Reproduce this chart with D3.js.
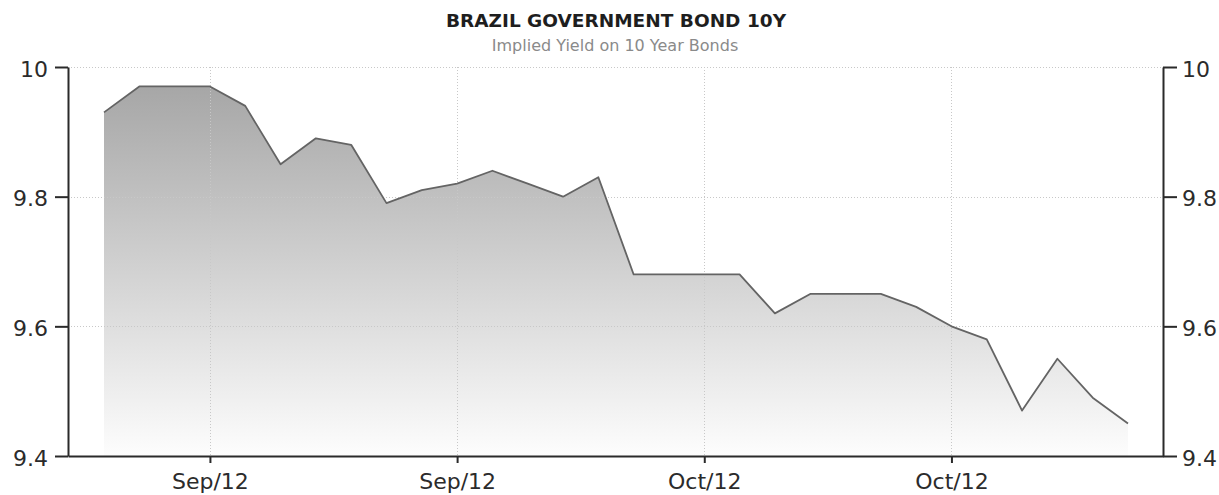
<!DOCTYPE html>
<html>
<head>
<meta charset="utf-8">
<script src="https://cdn.jsdelivr.net/npm/d3@7/dist/d3.min.js"></script>
<style>
  html, body { margin: 0; padding: 0; background: #fff; }
  svg { display: block; }
</style>
</head>
<body>
<svg id="chart" width="1219" height="495"></svg>
<script>
// Daily observations, 10-year Brazil government bond yield (%)
const dates = [
  "2012-09-14", "2012-09-15", "2012-09-16", "2012-09-17", "2012-09-18",
  "2012-09-19", "2012-09-20", "2012-09-21", "2012-09-22", "2012-09-23",
  "2012-09-24", "2012-09-25", "2012-09-26", "2012-09-27", "2012-09-28",
  "2012-09-29", "2012-09-30", "2012-10-01", "2012-10-02", "2012-10-03",
  "2012-10-04", "2012-10-05", "2012-10-06", "2012-10-07", "2012-10-08",
  "2012-10-09", "2012-10-10", "2012-10-11", "2012-10-12", "2012-10-13"
];
const yields = [
  9.93, 9.97, 9.97, 9.97, 9.94,
  9.85, 9.89, 9.88, 9.79, 9.81,
  9.82, 9.84, 9.82, 9.80, 9.83,
  9.68, 9.68, 9.68, 9.68, 9.62,
  9.65, 9.65, 9.65, 9.63, 9.60,
  9.58, 9.47, 9.55, 9.49, 9.45
];

// Axis ticks
const yTicks = [9.4, 9.6, 9.8, 10];
const xTickDates = ["2012-09-17", "2012-09-24", "2012-10-01", "2012-10-08"];
const xTickLabels = ["Sep/12", "Sep/12", "Oct/12", "Oct/12"];

const title = "BRAZIL GOVERNMENT BOND 10Y";
const subtitle = "Implied Yield on 10 Year Bonds";

const parse = d3.utcParse("%Y-%m-%d");
const data = dates.map((d, i) => ({ date: parse(d), value: yields[i] }));
const tickDates = xTickDates.map(parse);

const svg = d3.select("#chart");
const W = 1219, H = 495;
const m = { left: 68, right: W - 1163, top: 67, bottom: H - 456 };
const innerW = W - m.left - m.right;
const innerH = H - m.top - m.bottom;

// Time axis padded so the first and last days sit inside the frame
const firstX = 104, lastX = 1128;
const dayPx = (lastX - firstX) / (data.length - 1);
const x = d3.scaleUtc()
  .domain([
    new Date(data[0].date.getTime() - (firstX - m.left) / dayPx * 864e5),
    new Date(data[data.length - 1].date.getTime() + (m.left + innerW - lastX) / dayPx * 864e5)
  ])
  .range([m.left, m.left + innerW]);

const y = d3.scaleLinear().domain([9.4, 10]).range([m.top + innerH, m.top]);

const defs = svg.append("defs");
const grad = defs.append("linearGradient")
  .attr("id", "areaFill")
  .attr("gradientUnits", "userSpaceOnUse")
  .attr("x1", 0).attr("x2", 0)
  .attr("y1", y(10)).attr("y2", y(9.4));
grad.append("stop").attr("offset", "0%").attr("stop-color", "#a2a2a2");
grad.append("stop").attr("offset", "100%").attr("stop-color", "#fdfdfd");

// Area under the series
const area = d3.area()
  .x(d => x(d.date))
  .y0(y(9.4))
  .y1(d => y(d.value));
svg.append("path")
  .datum(data)
  .attr("d", area)
  .attr("fill", "url(#areaFill)");

// Dotted grid
const grid = svg.append("g").attr("stroke", "#c8c8c8").attr("stroke-width", 1)
  .attr("stroke-dasharray", "1,2");
grid.selectAll("line.h")
  .data(yTicks.filter(t => t > 9.4))
  .join("line")
  .attr("class", "h")
  .attr("x1", m.left).attr("x2", m.left + innerW)
  .attr("y1", d => Math.round(y(d)) + 0.5).attr("y2", d => Math.round(y(d)) + 0.5);
grid.selectAll("line.v")
  .data(tickDates)
  .join("line")
  .attr("class", "v")
  .attr("x1", d => Math.round(x(d)) + 0.5).attr("x2", d => Math.round(x(d)) + 0.5)
  .attr("y1", m.top).attr("y2", m.top + innerH);

// Series line
const line = d3.line()
  .x(d => x(d.date))
  .y(d => y(d.value));
svg.append("path")
  .datum(data)
  .attr("d", line)
  .attr("fill", "none")
  .attr("stroke", "#646464")
  .attr("stroke-width", 1.8)
  .attr("stroke-linejoin", "round");

const fontFamily = "'DejaVu Sans', Verdana, sans-serif";

// Axes
const yLeft = d3.axisLeft(y).tickValues(yTicks).tickSize(13).tickPadding(7)
  .tickFormat(d3.format("~g"));
const yRight = d3.axisRight(y).tickValues(yTicks).tickSize(14).tickPadding(5)
  .tickFormat(d3.format("~g"));
const xAxis = d3.axisBottom(x).tickValues(tickDates).tickSize(7).tickPadding(10)
  .tickFormat((d, i) => xTickLabels[i]);

function styleAxis(g) {
  g.select(".domain").attr("stroke", "#2a2a2a").attr("stroke-width", 2);
  g.selectAll(".tick line").attr("stroke", "#2a2a2a").attr("stroke-width", 2);
  g.selectAll(".tick text")
    .attr("fill", "#2b2b2b")
    .style("font-family", fontFamily)
    .style("font-size", "22px");
}

svg.append("g")
  .attr("transform", `translate(${m.left},0)`)
  .call(yLeft.tickSizeOuter(0))
  .call(styleAxis)
  .selectAll(".tick text").attr("dy", "0.42em");
svg.append("g")
  .attr("transform", `translate(${m.left + innerW},0)`)
  .call(yRight.tickSizeOuter(0))
  .call(styleAxis)
  .selectAll(".tick text").attr("dy", "0.42em");
svg.append("g")
  .attr("transform", `translate(0,${m.top + innerH})`)
  .call(xAxis.tickSizeOuter(0))
  .call(styleAxis);

// Titles
svg.append("text")
  .attr("x", 616).attr("y", 27)
  .attr("text-anchor", "middle")
  .style("font-family", fontFamily)
  .style("font-weight", "bold")
  .style("font-size", "18.5px")
  .attr("fill", "#1e1e1e")
  .text(title);
svg.append("text")
  .attr("x", 615).attr("y", 51)
  .attr("text-anchor", "middle")
  .style("font-family", fontFamily)
  .style("font-size", "16px")
  .attr("fill", "#8a8a8a")
  .text(subtitle);
</script>
</body>
</html>
